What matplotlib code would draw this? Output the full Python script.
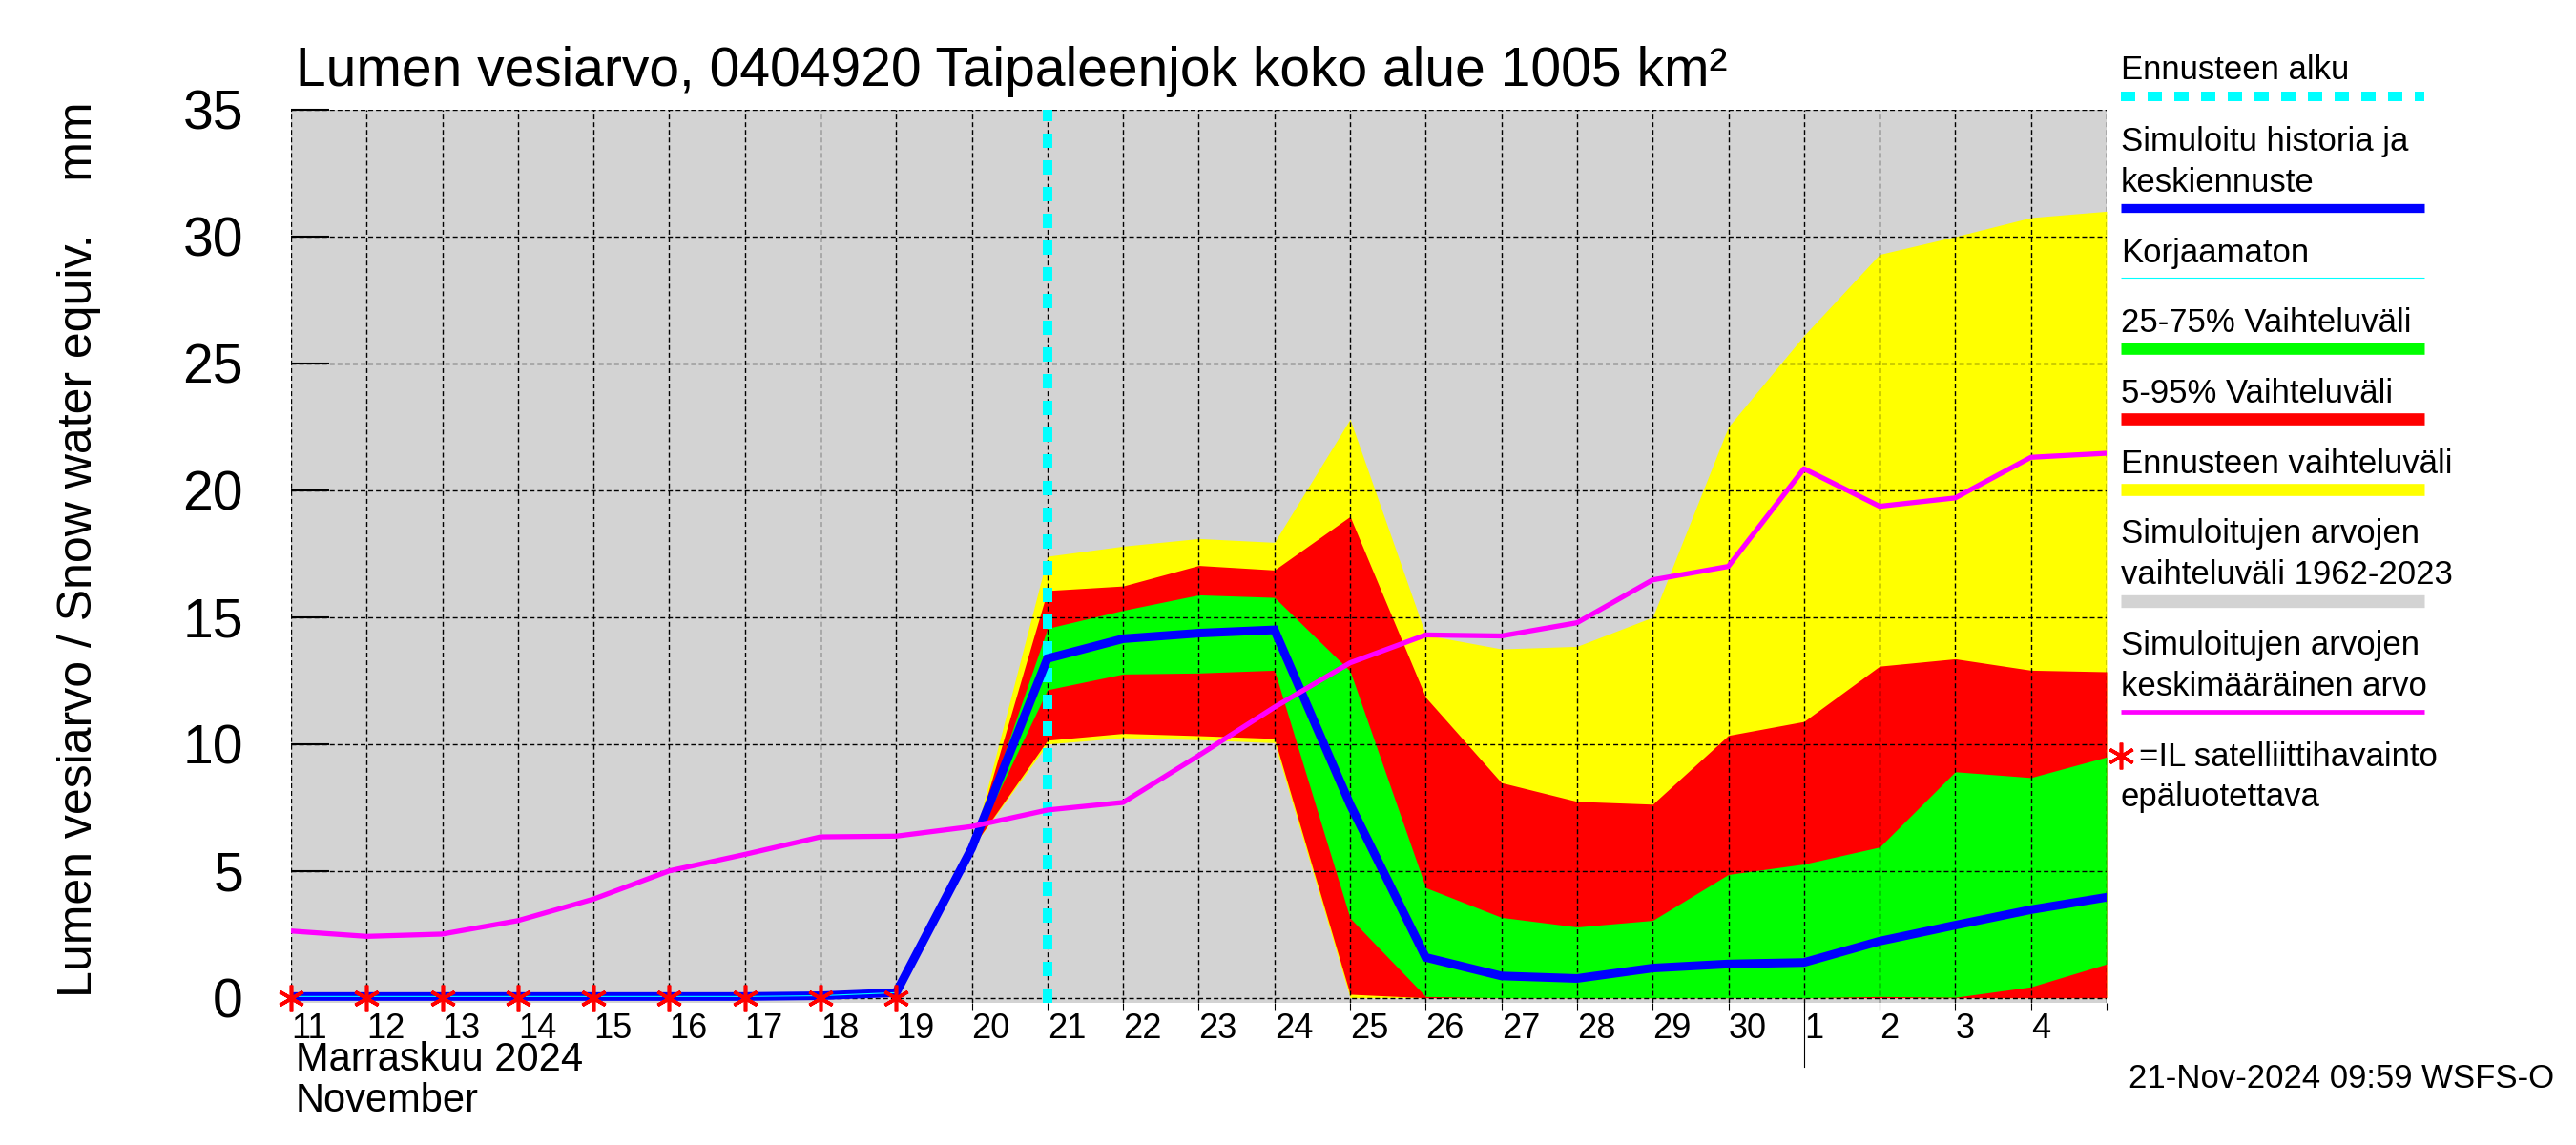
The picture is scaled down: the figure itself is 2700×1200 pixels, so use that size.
import matplotlib
matplotlib.use('Agg')
import matplotlib.pyplot as plt
from matplotlib.lines import Line2D
import pandas as pd

plt.rcParams['font.family'] = ['Liberation Sans', 'DejaVu Sans']

# päivät 11.11. - 5.12.2024
days = pd.date_range('2024-11-11', '2024-12-05', freq='D')
forecast_start = pd.Timestamp('2024-11-21')
month_change = pd.Timestamp('2024-12-01')

# simuloitu historia ja keskiennuste (mm)
median = [0.05, 0.05, 0.05, 0.05, 0.05, 0.05, 0.05, 0.08, 0.2, 5.9,
          13.37, 14.15, 14.37, 14.5, 7.62, 1.59, 0.86, 0.76, 1.17, 1.33,
          1.39, 2.23, 2.86, 3.47, 3.96]
# simuloitujen arvojen keskimääräinen arvo
mean_hist = [2.63, 2.42, 2.51, 3.04, 3.89, 5.0, 5.65, 6.34, 6.37, 6.75,
             7.4, 7.7, 9.55, 11.45, 13.2, 14.3, 14.26, 14.78, 16.47, 17.0,
             20.85, 19.37, 19.7, 21.3, 21.46]

# ennusteen vaihteluvälit 20.11. alkaen
fc_days = days[9:]
fc_max = [5.9, 17.4, 17.8, 18.1, 17.95, 22.8, 14.3, 13.75, 13.85, 15.0,
          22.5, 26.1, 29.3, 30.0, 30.75, 31.0]
fc_min = [5.9, 10.0, 10.25, 10.17, 10.05, 0.0, 0.0, 0.0, 0.0, 0.0,
          0.0, 0.0, 0.0, 0.0, 0.0, 0.0]
p95 = [5.9, 16.05, 16.23, 17.04, 16.86, 18.97, 11.84, 8.48, 7.74, 7.63,
       10.34, 10.89, 13.07, 13.36, 12.91, 12.85]
p05 = [5.9, 10.15, 10.42, 10.33, 10.22, 0.14, 0.0, 0.0, 0.0, 0.0,
       0.0, 0.0, 0.0, 0.0, 0.0, 0.0]
p75 = [5.9, 14.56, 15.27, 15.88, 15.78, 12.88, 4.34, 3.17, 2.79, 3.05,
       4.86, 5.27, 5.94, 8.91, 8.68, 9.49]
p25 = [5.9, 12.14, 12.76, 12.8, 12.91, 3.14, 0.05, 0.0, 0.0, 0.0,
       0.0, 0.0, 0.05, 0.02, 0.43, 1.33]

# epäluotettavat satelliittihavainnot
sat_days = days[:9]
sat_vals = [0, 0, 0, 0, 0, 0, 0, 0, 0]

title = 'Lumen vesiarvo, 0404920 Taipaleenjok koko alue 1005 km²'
ylabel = 'Lumen vesiarvo / Snow water equiv.    mm'
day_labels = [str(d.day) for d in days[:-1]] + ['']
yticks = [0, 5, 10, 15, 20, 25, 30, 35]

fig = plt.figure(figsize=(27, 12), dpi=100)
ax = fig.add_axes([0.11296, 0.12417, 0.7048, 0.78])
ax.set_facecolor('#d3d3d3')

ax.fill_between(fc_days, fc_min, fc_max, color='yellow', lw=0, zorder=1)
ax.fill_between(fc_days, p05, p95, color='red', lw=0, zorder=1.1)
ax.fill_between(fc_days, p25, p75, color='#00ff00', lw=0, zorder=1.2)

ax.axvline(forecast_start, color='cyan', lw=7.2, linestyle=(0, (1.5, 1.3)), zorder=2.8)
ax.plot(days, median, color='blue', lw=6.5, zorder=3, solid_joinstyle='miter')
ax.plot(days[:9], median[:9], color='cyan', lw=0.8, zorder=3.1)
ax.plot(days, mean_hist, color='magenta', lw=3.8, zorder=4)
ax.plot(sat_days, sat_vals, ls='none', marker=(6, 2, 0), ms=20, mec='red',
        mew=2.6, zorder=5, clip_on=False)

ax.set_xlim(days[0], days[-1])
ax.set_ylim(-0.2, 35)
ax.set_xticks(days)
ax.set_xticklabels(day_labels, ha='left', fontsize=26)
ax.set_yticks(yticks)
ax.set_yticklabels([str(v) for v in yticks], fontsize=41)
ax.tick_params(axis='y', direction='in', length=29, width=1.5, pad=36)
ax.tick_params(axis='x', direction='out', length=6, width=0.8, pad=1)
for sp in ax.spines.values():
    sp.set_visible(False)
ax.set_axisbelow(False)
ax.grid(True, color='black', linestyle=(0, (3.6, 2.2)), linewidth=1.0)

# kuukauden vaihde
ax.plot([month_change, month_change], [0, -0.072], transform=ax.get_xaxis_transform(),
        color='black', lw=0.8, clip_on=False)

fig.text(0.1148, 0.925, title, fontsize=41, va='baseline')
fig.text(0.0307, 0.52, ylabel, fontsize=36, rotation=90, ha='center', va='center')
fig.text(0.1148, 0.065, 'Marraskuu 2024', fontsize=30, va='baseline')
fig.text(0.1148, 0.0292, 'November', fontsize=30, va='baseline')
fig.text(0.9915, 0.05, '21-Nov-2024 09:59 WSFS-O', fontsize=25, ha='right', va='baseline')

# selitteet
lx0, lx1 = 0.8233, 0.9411
legend = [
    (['Ennusteen alku'], [83], 100.7, dict(color='cyan', lw=7.2, ls=(0, (1.5, 1.3)))),
    (['Simuloitu historia ja', 'keskiennuste'], [158, 201], 218, dict(color='blue', lw=6.7)),
    (['Korjaamaton'], [275], 291, dict(color='cyan', lw=0.8)),
    (['25-75% Vaihteluväli'], [348], 365, dict(color='#00ff00', lw=9.1)),
    (['5-95% Vaihteluväli'], [422], 439, dict(color='red', lw=9.1)),
    (['Ennusteen vaihteluväli'], [496], 513, dict(color='yellow', lw=9.1)),
    (['Simuloitujen arvojen', 'vaihteluväli 1962-2023'], [569, 612], 630, dict(color='#d3d3d3', lw=9.6)),
    (['Simuloitujen arvojen', 'keskimääräinen arvo'], [686, 729], 746, dict(color='magenta', lw=3.4)),
]
for lines, bases, ly, style in legend:
    for txt, b in zip(lines, bases):
        fig.text(lx0, 1 - b / 1200, txt, fontsize=25, va='baseline')
    fig.add_artist(Line2D([lx0, lx1], [1 - ly / 1200] * 2, transform=fig.transFigure,
                          solid_capstyle='butt', dash_capstyle='butt', **style))

fig.add_artist(Line2D([lx0], [1 - 792 / 1200], transform=fig.transFigure, ls='none',
                      marker=(6, 2, 0), ms=20, mec='red', mew=2.6))
fig.text(0.8304, 1 - 803 / 1200, '=IL satelliittihavainto', fontsize=25, va='baseline')
fig.text(lx0, 1 - 845 / 1200, 'epäluotettava', fontsize=25, va='baseline')

fig.savefig('out.png', dpi=100)
